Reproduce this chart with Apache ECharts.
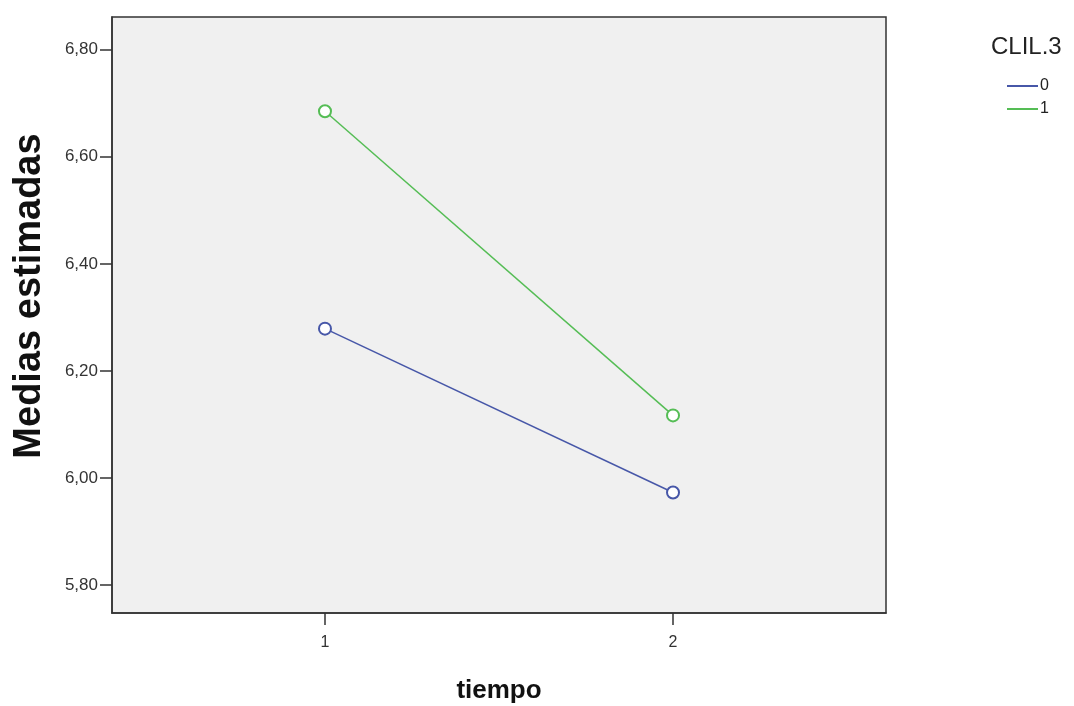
<!DOCTYPE html>
<html>
<head>
<meta charset="utf-8">
<script src="https://cdn.jsdelivr.net/npm/echarts@6/dist/echarts.min.js"></script>
<style>
  html, body { margin: 0; padding: 0; background: #fff; }
  #chart { width: 1074px; height: 706px; }
</style>
</head>
<body>
<div id="chart"></div>
<script>
// datos
var tiempo = [1, 2];
var grupos = ["0", "1"];
var medias0 = [6.279, 5.973];
var medias1 = [6.685, 6.117];
var yTicks = [5.8, 6.0, 6.2, 6.4, 6.6, 6.8];

var myChart = echarts.init(document.getElementById("chart"));

function pares(xs, ys) {
  return xs.map(function (x, i) { return [x, ys[i]]; });
}

var option = {
  backgroundColor: "#fff",
  textStyle: { fontFamily: "Liberation Sans, Arial, sans-serif" },
  grid: {
    left: 112, right: 188, top: 17, bottom: 93,
    outerBoundsMode: "none",
    containLabel: false,
    show: true,
    backgroundColor: "#f0f0f0",
    borderColor: "#333",
    borderWidth: 1.5
  },
  legend: {
    data: grupos,
    orient: "vertical",
    left: 1002, top: 73,
    itemWidth: 31, itemHeight: 2, itemGap: 7,
    icon: "rect",
    textStyle: { fontSize: 16, color: "#222", padding: [0, 0, 0, -3] }
  },
  xAxis: {
    type: "value",
    min: 0.388, max: 2.612,
    name: "tiempo",
    nameLocation: "middle",
    nameGap: 65,
    nameTextStyle: { fontSize: 26, fontWeight: "bold", color: "#111" },
    axisLine: { show: true, lineStyle: { color: "#333", width: 1.5 } },
    axisTick: { show: true, customValues: tiempo, length: 12, lineStyle: { color: "#333", width: 1.5 } },
    axisLabel: { customValues: tiempo, fontSize: 16, color: "#333", margin: 22 },
    splitLine: { show: false }
  },
  yAxis: {
    type: "value",
    min: 5.748, max: 6.861,
    axisLine: { show: true, lineStyle: { color: "#333", width: 1.5 } },
    axisTick: { show: true, customValues: yTicks, length: 12, lineStyle: { color: "#333", width: 1.5 } },
    axisLabel: {
      customValues: yTicks, fontSize: 17, color: "#333", margin: 14,
      formatter: function (v) { return v.toFixed(2).replace(".", ","); }
    },
    splitLine: { show: false }
  },
  graphic: [
    {
      type: "text",
      x: 30, y: 296,
      rotation: Math.PI / 2,
      style: {
        text: "Medias estimadas",
        fontSize: 38, fontWeight: "bold", fill: "#111",
        fontFamily: "Liberation Sans, Arial, sans-serif",
        align: "center", verticalAlign: "middle"
      }
    },
    {
      type: "text",
      x: 991, y: 47,
      style: {
        text: "CLIL.3",
        fontSize: 24, fill: "#222",
        fontFamily: "Liberation Sans, Arial, sans-serif",
        align: "left", verticalAlign: "middle"
      }
    }
  ],
  series: [
    {
      name: "0", type: "line",
      data: pares(tiempo, medias0),
      symbol: "emptyCircle", symbolSize: 12,
      lineStyle: { color: "#4757a8", width: 1.5 },
      itemStyle: { color: "#4757a8", borderWidth: 1.5 }
    },
    {
      name: "1", type: "line",
      data: pares(tiempo, medias1),
      symbol: "emptyCircle", symbolSize: 12,
      lineStyle: { color: "#55bd55", width: 1.5 },
      itemStyle: { color: "#55bd55", borderWidth: 1.5 }
    }
  ]
};

myChart.setOption(option);
</script>
</body>
</html>
